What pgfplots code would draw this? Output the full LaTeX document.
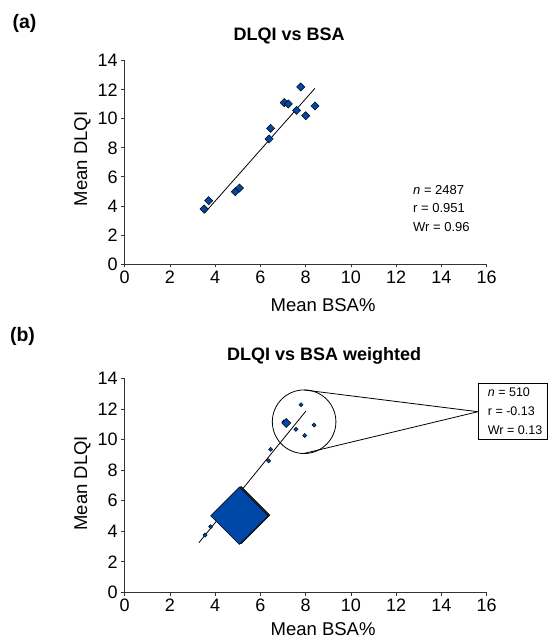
\documentclass[border=0pt]{standalone}
\usepackage{fontspec}
\setmainfont{Liberation Sans}
\usepackage{pgfplots}
\pgfplotsset{compat=1.18}
\definecolor{mblue}{HTML}{0048A8}
\pgfplotsset{
  common/.style={
    scale only axis, width=362pt,
    xmin=0, xmax=16, ymin=0, ymax=14,
    xtick={0,2,...,16}, ytick={0,2,...,14},
    axis lines*=left,
    axis line style={black!80, line width=0.8pt},
    tick style={black!80, line width=0.8pt},
    tick align=outside, major tick length=3.5pt,
    /pgf/number format/assume math mode=true,
    tick label style={font=\fontsize{18}{20}\selectfont},
    label style={font=\fontsize{18.5}{21}\selectfont},
    title style={font=\bfseries\fontsize{18}{20}\selectfont, yshift=-6pt},
    clip=false,
  },
}
\begin{document}
\begin{tikzpicture}
\useasboundingbox (0pt,0pt) rectangle (548pt,640pt);
% panel labels
\node[font=\bfseries\fontsize{19.5}{22}\selectfont] at (24.5pt,617pt) {(a)};
\node[font=\bfseries\fontsize{19.5}{22}\selectfont] at (22.5pt,304pt) {(b)};
% ---------- (a)
\begin{axis}[common, height=203.3pt, at={(124.7pt,376pt)}, anchor=south west,
  title={DLQI vs BSA},
  title style={at={(axis description cs:0.454,1.12)}, anchor=center},
  xlabel={Mean BSA\%},
  xlabel style={at={(axis description cs:0.548,-0.202)}, anchor=center},
  ylabel={Mean DLQI},
  ylabel style={at={(axis description cs:-0.117,0.516)}, anchor=center},
]
\addplot[black, line width=0.8pt] coordinates {(3.52,3.49) (8.41,12.1)};
\addplot[only marks, mark=square*, mark size=2.9pt,
  mark options={rotate=45, fill=mblue, draw=black, line width=0.5pt}]
  coordinates {
  (3.51,3.79) (3.71,4.36) (4.89,4.98) (5.07,5.23) (6.38,8.61) (6.45,9.34)
  (7.05,11.11) (7.23,11.02) (7.60,10.58) (7.78,12.19) (8.00,10.21) (8.41,10.88)
  };
\end{axis}
\node[anchor=north west, align=left, font=\fontsize{13}{18.5}\selectfont, inner sep=0pt]
  at (413pt,455pt) {\textit{n} = 2487\\r = 0.951\\Wr = 0.96};
% ---------- (b)
\begin{axis}[common, height=213.6pt, at={(124.7pt,47.7pt)}, anchor=south west,
  title={DLQI vs BSA weighted},
  title style={at={(axis description cs:0.551,1.106)}, anchor=center},
  xlabel={Mean BSA\%},
  xlabel style={at={(axis description cs:0.548,-0.173)}, anchor=center},
  ylabel={Mean DLQI},
  ylabel style={at={(axis description cs:-0.117,0.51)}, anchor=center},
]
\addplot[only marks, mark=square*, mark size=20.3pt,
  mark options={rotate=45, fill=black!85, draw=black, line width=0.5pt, xshift=1.6pt, yshift=-0.8pt}]
  coordinates {(5.07,5.02)};
\addplot[only marks, mark=square*, mark size=20.3pt,
  mark options={rotate=45, fill=mblue, draw=black, line width=0.5pt}]
  coordinates {(5.07,5.02)};
\addplot[black, line width=0.8pt] coordinates {(3.28,3.25) (8.01,11.88)};
\addplot[only marks, mark=square*, mark size=1.5pt,
  mark options={rotate=45, fill=mblue, draw=black, line width=0.4pt}]
  coordinates {
  (3.55,3.75) (3.80,4.30) (6.36,8.62) (6.45,9.37) (7.04,11.18)
  (7.57,10.68) (7.79,12.29) (7.96,10.28) (8.37,10.96)
  };
\addplot[only marks, mark=square*, mark size=3.2pt,
  mark options={rotate=45, fill=mblue, draw=black, line width=0.5pt}]
  coordinates {(7.14,11.10)};
\draw[black, line width=0.8pt] (axis cs:7.93,11.18) circle[radius=31.8pt];
\end{axis}
\draw[black, line width=0.8pt] (304.2pt,250pt) -- (478pt,228.3pt) -- (304.2pt,186.6pt);
\draw[black, line width=0.8pt, fill=white] (478pt,200.7pt) rectangle (547.3pt,256.5pt);
\node[anchor=north west, align=left, font=\fontsize{12.5}{19}\selectfont, inner sep=0pt]
  at (487.7pt,252.5pt) {\textit{n} = 510\\r = -0.13\\Wr = 0.13};
\end{tikzpicture}
\end{document}
